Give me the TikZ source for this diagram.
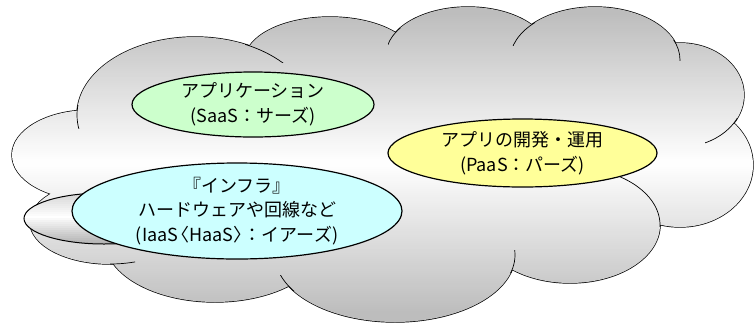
\documentclass[tikz,border=0pt]{standalone}
\usepackage{fontspec}
\setmainfont{Noto Sans CJK JP}
\usetikzlibrary{shapes.geometric}
\definecolor{saasgreen}{RGB}{204,255,204}
\definecolor{paasyellow}{RGB}{255,255,153}
\definecolor{iaascyan}{RGB}{204,255,255}
\begin{document}
\begin{tikzpicture}[x=1pt,y=-1pt,
  cloudline/.style={draw=black, line width=0.7pt},
  cloudedge/.style={draw=black, line width=1.4pt},
  bubble/.style={ellipse, draw=black, line width=1.2pt, inner sep=0pt, align=center,
    font=\fontsize{18}{24.5}\selectfont},
  smallbubble/.style={ellipse, draw=black, line width=1.0pt, inner sep=0pt}
]
\useasboundingbox (0,0) rectangle (755,325);
% cloud outline (outer half stays visible)
\path[cloudedge]
  (195,115) ellipse[x radius=118, y radius=78]
  (330,60) ellipse[x radius=85, y radius=43]
  (468,55) ellipse[x radius=82, y radius=48]
  (595,60) ellipse[x radius=85, y radius=53]
  (680,95) ellipse[x radius=64, y radius=52]
  (680,165) ellipse[x radius=73, y radius=62]
  (570,225) ellipse[x radius=90, y radius=58]
  (395,255) ellipse[x radius=120, y radius=67]
  (215,240) ellipse[x radius=110, y radius=62]
  (110,222) ellipse[x radius=80, y radius=42]
  (90,155) ellipse[x radius=78, y radius=45];
% cloud fill: grey - white - grey gradient built from thin bands
\begin{scope}
\clip
  (195,115) ellipse[x radius=118, y radius=78]
  (330,60) ellipse[x radius=85, y radius=43]
  (468,55) ellipse[x radius=82, y radius=48]
  (595,60) ellipse[x radius=85, y radius=53]
  (680,95) ellipse[x radius=64, y radius=52]
  (680,165) ellipse[x radius=73, y radius=62]
  (570,225) ellipse[x radius=90, y radius=58]
  (395,255) ellipse[x radius=120, y radius=67]
  (215,240) ellipse[x radius=110, y radius=62]
  (110,222) ellipse[x radius=80, y radius=42]
  (90,155) ellipse[x radius=78, y radius=45]
  (380,165) ellipse[x radius=300, y radius=110];
\foreach \yy in {5,7,...,323} {
  \pgfmathsetmacro\q{min(26,26*abs(\yy+1-163)/150)}
  \fill[black!\q] (0,\yy) rectangle (755,\yy+2.4);
}
\end{scope}
% interior arc ends of the cloud
\begin{scope}\clip (245,35) rectangle (285,62);
  \path[cloudline] (195,115) ellipse[x radius=118, y radius=78];\end{scope}
\begin{scope}\clip (388,28) rectangle (404,44);
  \path[cloudline] (468,55) ellipse[x radius=82, y radius=48];\end{scope}
\begin{scope}\clip (510,20) rectangle (535,45);
  \path[cloudline] (595,60) ellipse[x radius=85, y radius=53];\end{scope}
\begin{scope}\clip (672,40) rectangle (686,60);
  \path[cloudline] (595,60) ellipse[x radius=85, y radius=53];\end{scope}
\begin{scope}\clip (705,118) rectangle (738,146);
  \path[cloudline] (680,95) ellipse[x radius=64, y radius=52];\end{scope}
\begin{scope}\clip (610,170) rectangle (662,226);
  \path[cloudline] (570,225) ellipse[x radius=90, y radius=58];\end{scope}
\begin{scope}\clip (505,250) rectangle (520,272);
  \path[cloudline] (395,255) ellipse[x radius=120, y radius=67];\end{scope}
\begin{scope}\clip (278,275) rectangle (294,294);
  \path[cloudline] (395,255) ellipse[x radius=120, y radius=67];\end{scope}
\begin{scope}\clip (110,250) rectangle (135,268);
  \path[cloudline] (110,222) ellipse[x radius=80, y radius=42];\end{scope}
\begin{scope}\clip (74,105) rectangle (85,128);
  \path[cloudline] (195,115) ellipse[x radius=118, y radius=78];\end{scope}
% small grey ellipse: gradient bands, then its outline
\begin{scope}
\clip (104,218.5) ellipse[x radius=80, y radius=25.5];
\foreach \yy in {192,194,...,244} {
  \pgfmathsetmacro\q{\yy<216 ? 16*(216-\yy)/23 : 32*(\yy-216)/28}
  \fill[black!\q] (20,\yy) rectangle (190,\yy+2.4);
}
\end{scope}
\node[smallbubble, minimum width=160pt, minimum height=51pt] (small) at (104,218.5) {};
% service ellipses
\node[bubble, fill=saasgreen, minimum width=242pt, minimum height=65pt] (saas) at (253,104.5)
  {アプリケーション\\(SaaS：サーズ)};
\node[bubble, fill=paasyellow, minimum width=269pt, minimum height=68pt] (paas) at (522.5,153)
  {アプリの開発・運用\\(PaaS：パーズ)};
\node[bubble, fill=iaascyan, minimum width=330pt, minimum height=96pt] (iaas) at (237,211)
  {『インフラ』\\ハードウェアや回線など\\(IaaS\kern-.4em〈HaaS〉\kern-.4em：イアーズ)};
\end{tikzpicture}
\end{document}
